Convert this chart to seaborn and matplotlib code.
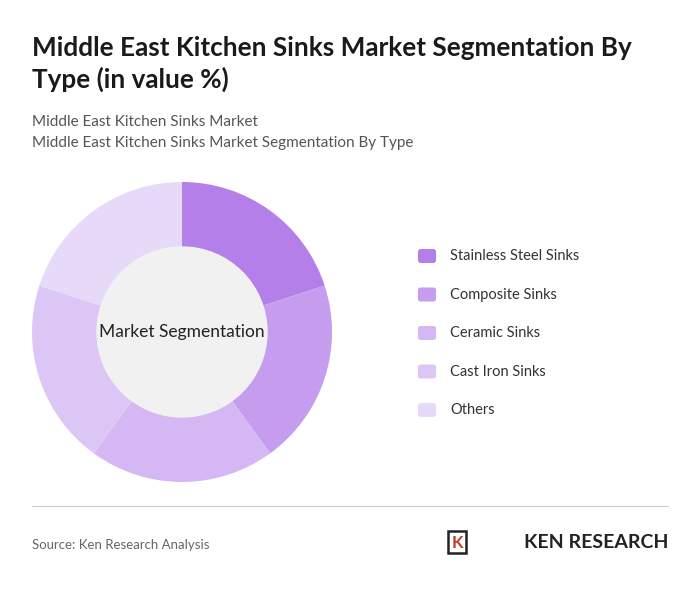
import matplotlib
matplotlib.use("Agg")
import matplotlib.pyplot as plt
import seaborn as sns

# segment data (value %)
segments = ["Stainless Steel Sinks", "Composite Sinks", "Ceramic Sinks", "Cast Iron Sinks", "Others"]
shares = [20, 20, 20, 20, 20]
colors = ["#b47fe9", "#c59cee", "#d4b7f3", "#dcc6f5", "#e7daf8"]

sns.set_style("white")
plt.rcParams['font.family'] = ['Lato', 'DejaVu Sans']

W, H = 700, 591
fig = plt.figure(figsize=(7, 5.91), dpi=100)
fig.patch.set_facecolor("white")

def fx(x): return x / W
def fy(y): return 1 - y / H

fig.text(fx(32), fy(64), "Middle East Kitchen Sinks Market Segmentation By\nType (in value %)",
         fontsize=18.8, fontweight="bold", color="#1a1a1a", va="center", linespacing=1.3)
fig.text(fx(32), fy(122), "Middle East Kitchen Sinks Market", fontsize=11, color="#555555", va="center")
fig.text(fx(32), fy(143), "Middle East Kitchen Sinks Market Segmentation By Type", fontsize=11, color="#555555", va="center")

# donut
cx, cy, r = 182, 332, 150
ax = fig.add_axes([fx(cx - r), fy(cy + r), 2 * r / W, 2 * r / H])
ax.pie(shares, colors=colors, startangle=90, counterclock=False,
       wedgeprops=dict(width=65 / r, edgecolor="none"), radius=1)
ax.add_patch(plt.Circle((0, 0), 85 / r, color="#f1f1f1", zorder=3))
ax.text(0, 0, "Market Segmentation", ha="center", va="center", fontsize=12.5, color="#222222", zorder=4)
ax.set_xlim(-1, 1); ax.set_ylim(-1, 1); ax.set_aspect("equal"); ax.axis("off")

# legend
for i, (name, c) in enumerate(zip(segments, colors)):
    y = 256 + i * 38.5
    fig.patches.append(matplotlib.patches.FancyBboxPatch(
        (fx(418), fy(y + 7)), 18 / W, 14 / H, boxstyle="round,pad=0,rounding_size=0.004",
        transform=fig.transFigure, facecolor=c, edgecolor="none"))
    fig.text(fx(450), fy(y), name, fontsize=10.5, color="#333333", va="center")

fig.add_artist(matplotlib.lines.Line2D([fx(32), fx(668)], [fy(506), fy(506)], color="#cccccc", lw=0.8))
fig.text(fx(32), fy(545), "Source: Ken Research Analysis", fontsize=9.5, color="#666666", va="center")
# logo
fig.patches.append(matplotlib.patches.Rectangle((fx(448), fy(553)), 18 / W, 22 / H,
                   transform=fig.transFigure, facecolor="none", edgecolor="#222222", lw=1.8))
fig.text(fx(457), fy(543), "K", fontsize=12, fontweight="bold", color="#c0392b", va="center", ha="center")
fig.text(fx(668), fy(543), "KEN RESEARCH", fontsize=14, fontweight="bold", color="#222222", va="center", ha="right")

fig.savefig("out.png", dpi=100, facecolor="white")
